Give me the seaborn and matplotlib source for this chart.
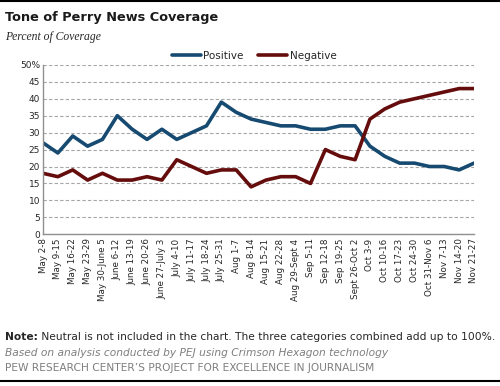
import pandas as pd
import matplotlib
matplotlib.use('Agg')
import matplotlib.pyplot as plt
import seaborn as sns
from matplotlib.ticker import FuncFormatter


weeks = ['May 2-8', 'May 9-15', 'May 16-22', 'May 23-29', 'May 30-June 5',
         'June 6-12', 'June 13-19', 'June 20-26', 'June 27-July 3',
         'July 4-10', 'July 11-17', 'July 18-24', 'July 25-31', 'Aug 1-7',
         'Aug 8-14', 'Aug 15-21', 'Aug 22-28', 'Aug 29-Sept 4', 'Sep 5-11',
         'Sep 12-18', 'Sep 19-25', 'Sept 26-Oct 2', 'Oct 3-9', 'Oct 10-16',
         'Oct 17-23', 'Oct 24-30', 'Oct 31-Nov 6', 'Nov 7-13', 'Nov 14-20',
         'Nov 21-27']
positive = [27, 24, 29, 26, 28, 35, 31, 28, 31, 28, 30, 32, 39, 36, 34,
            33, 32, 32, 31, 31, 32, 32, 26, 23, 21, 21, 20, 20, 19, 21]
negative = [18, 17, 19, 16, 18, 16, 16, 17, 16, 22, 20, 18, 19, 19, 14,
            16, 17, 17, 15, 25, 23, 22, 34, 37, 39, 40, 41, 42, 43, 43]
y_ticks = [0, 5, 10, 15, 20, 25, 30, 35, 40, 45, 50]

boje = {'Positive': '#174a70', 'Negative': '#650d0d'}

df = pd.DataFrame({'week': list(range(len(weeks))) * 2,
                   'value': positive + negative,
                   'tone': ['Positive'] * len(weeks) + ['Negative'] * len(weeks)})

sns.set_style('white')
plt.rcParams['font.family'] = ['DejaVu Sans']

fig = plt.figure(figsize=(5, 3.86), dpi=100)
ax = fig.add_axes([0.086, 0.393, 0.862, 0.439])

sns.lineplot(data=df, x='week', y='value', hue='tone', palette=boje,
             linewidth=2.6, ax=ax)

# osi i mreza
ax.set_xlim(0, len(weeks) - 1)
ax.set_ylim(0, 50)
ax.set_yticks(y_ticks)
ax.yaxis.set_major_formatter(FuncFormatter(lambda v, p: '50%' if v == 50 else f'{v:.0f}'))
ax.set_xticks(range(len(weeks)))
ax.set_xticklabels(weeks, rotation=90, fontsize=6.3)
ax.tick_params(axis='y', labelsize=6.5, length=0, pad=2)
ax.tick_params(axis='x', length=0, pad=3)
ax.grid(axis='y', color='#a6a6a6', linestyle=(0, (3, 2)), linewidth=0.8)
ax.set_xlabel('')
ax.set_ylabel('')
for s in ['top', 'right']:
    ax.spines[s].set_visible(False)
for s in ['left', 'bottom']:
    ax.spines[s].set_color('#909090')
    ax.spines[s].set_linewidth(1)

ax.legend(loc='lower center', bbox_to_anchor=(0.49, 1.0), ncol=2, frameon=False,
          fontsize=7.5, handlelength=2.8, columnspacing=1.4, handletextpad=0.2,
          borderaxespad=0)

# naslov
fig.text(0.01, 0.955, 'Tone of Perry News Coverage', fontsize=9.3, fontweight='bold',
         va='center', color='#1a1a1a')
fig.text(0.01, 0.905, 'Percent of Coverage', fontsize=8.4, style='italic',
         family='Liberation Serif', va='center')

# napomene
note = fig.text(0.01, 0.127, 'Note:', fontsize=7.7, fontweight='bold', va='center')
ax.annotate(' Neutral is not included in the chart. The three categories combined add up to 100%.',
            xy=(1, 0.5), xycoords=note, fontsize=7.7, va='center', ha='left',
            annotation_clip=False)
fig.text(0.01, 0.086, 'Based on analysis conducted by PEJ using Crimson Hexagon technology',
         fontsize=7.7, style='italic', color='#7f7f7f', va='center')
fig.text(0.01, 0.047, 'PEW RESEARCH CENTER\u2019S PROJECT FOR EXCELLENCE IN JOURNALISM',
         fontsize=7.7, color='#7f7f7f', va='center')

fig.add_artist(plt.Line2D([0, 1], [0.997, 0.997], color='black', linewidth=1.5))
fig.add_artist(plt.Line2D([0, 1], [0.013, 0.013], color='black', linewidth=1.5))

plt.savefig('out.png', dpi=100)
plt.close()
